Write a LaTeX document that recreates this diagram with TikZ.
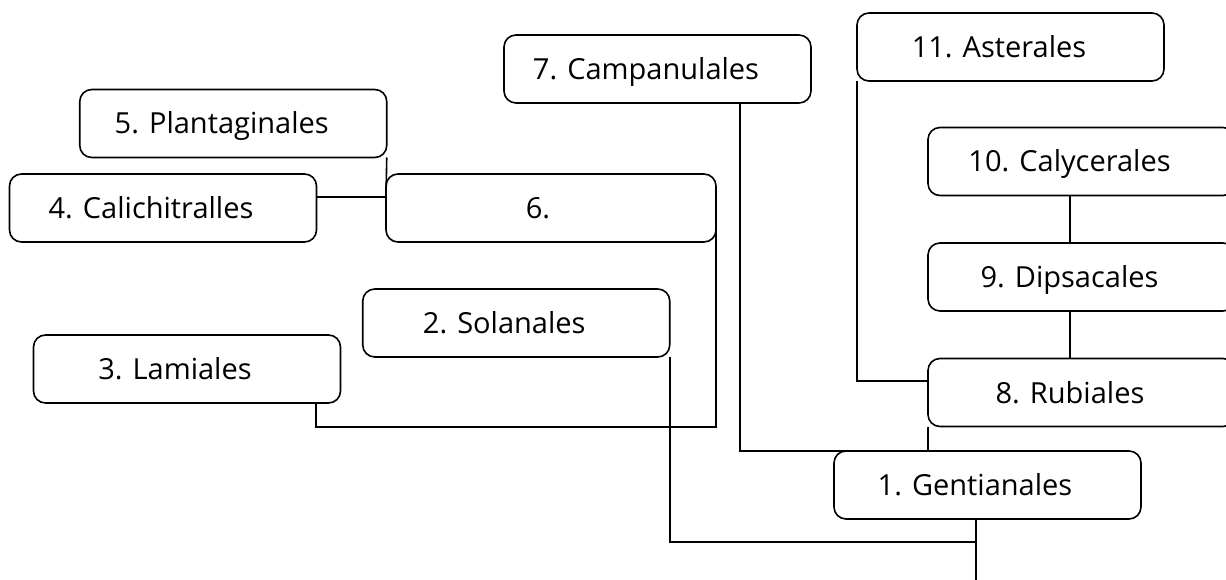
\documentclass[tikz,border=0pt]{standalone}
\usepackage{fontspec}
\setmainfont{Open Sans}
\begin{document}
\begin{tikzpicture}[x=1pt,y=-1pt,
  box/.style={draw, line width=1.6pt, rounded corners=12pt, minimum width=307pt,
    minimum height=68pt, inner sep=0pt, outer sep=0pt, text height=21pt, text depth=0pt,
    font=\fontsize{29}{34}\selectfont},
  link/.style={line width=1.6pt}]
\useasboundingbox (0,0) rectangle (1226,580);
\clip (0,0) rectangle (1226,580);
% boxes
\node[box] (n1) at (987.5,485) {1. Gentianales\kern25pt};
\node[box] (n2) at (516.25,323) {2. Solanales\kern24pt};
\node[box] (n3) at (187,369) {3. Lamiales\kern24pt};
\node[box] (n4) at (163,208) {4. Calichitralles\kern24pt};
\node[box] (n5) at (233.25,123.5) {5. Plantaginales\kern23pt};
\node[box, minimum width=330pt] (n6) at (551,208) {6.\kern26pt};
\node[box] (n7) at (657.5,69) {7. Campanulales\kern23pt};
\node[box] (n8) at (1081.5,392.5) {8. Rubiales\kern23pt};
\node[box] (n9) at (1081.5,277) {9. Dipsacales\kern24pt};
\node[box] (n10) at (1081.5,161.5) {10. Calycerales\kern24pt};
\node[box] (n11) at (1010.5,47) {11. Asterales\kern23pt};
% junctions
\coordinate (j46) at (386,197);
\coordinate (j36a) at (316,427);
\coordinate (j36b) at (716,427);
\coordinate (j12) at (976,542);
\coordinate (j17) at (740,451);
\coordinate (j118) at (857,381);
\coordinate (root) at (976,580);
% connectors
\draw[link] (n5.south east) -- (j46);
\draw[link] (j46 -| n4.east) -- (j46);
\draw[link] (n6.east |- 0,222) -- (j36b) -- (j36a) -- (j36a |- n3.south);
\draw[link] (n2.south east) -- (n2.south east |- j12) -- (j12);
\draw[link] (j12 |- n1.south) -- (root);
\draw[link] (j17 |- n7.south) -- (j17) -- (n1.north);
\draw[link] (n8.south west) -- (n8.south west |- n1.north);
\draw[link] (j118 |- n11.south) -- (j118) -- (j118 -| n8.west);
\draw[link] (1070,0 |- n10.south) -- (1070,0 |- n9.north);
\draw[link] (1070,0 |- n9.south) -- (1070,0 |- n8.north);
\end{tikzpicture}
\end{document}
